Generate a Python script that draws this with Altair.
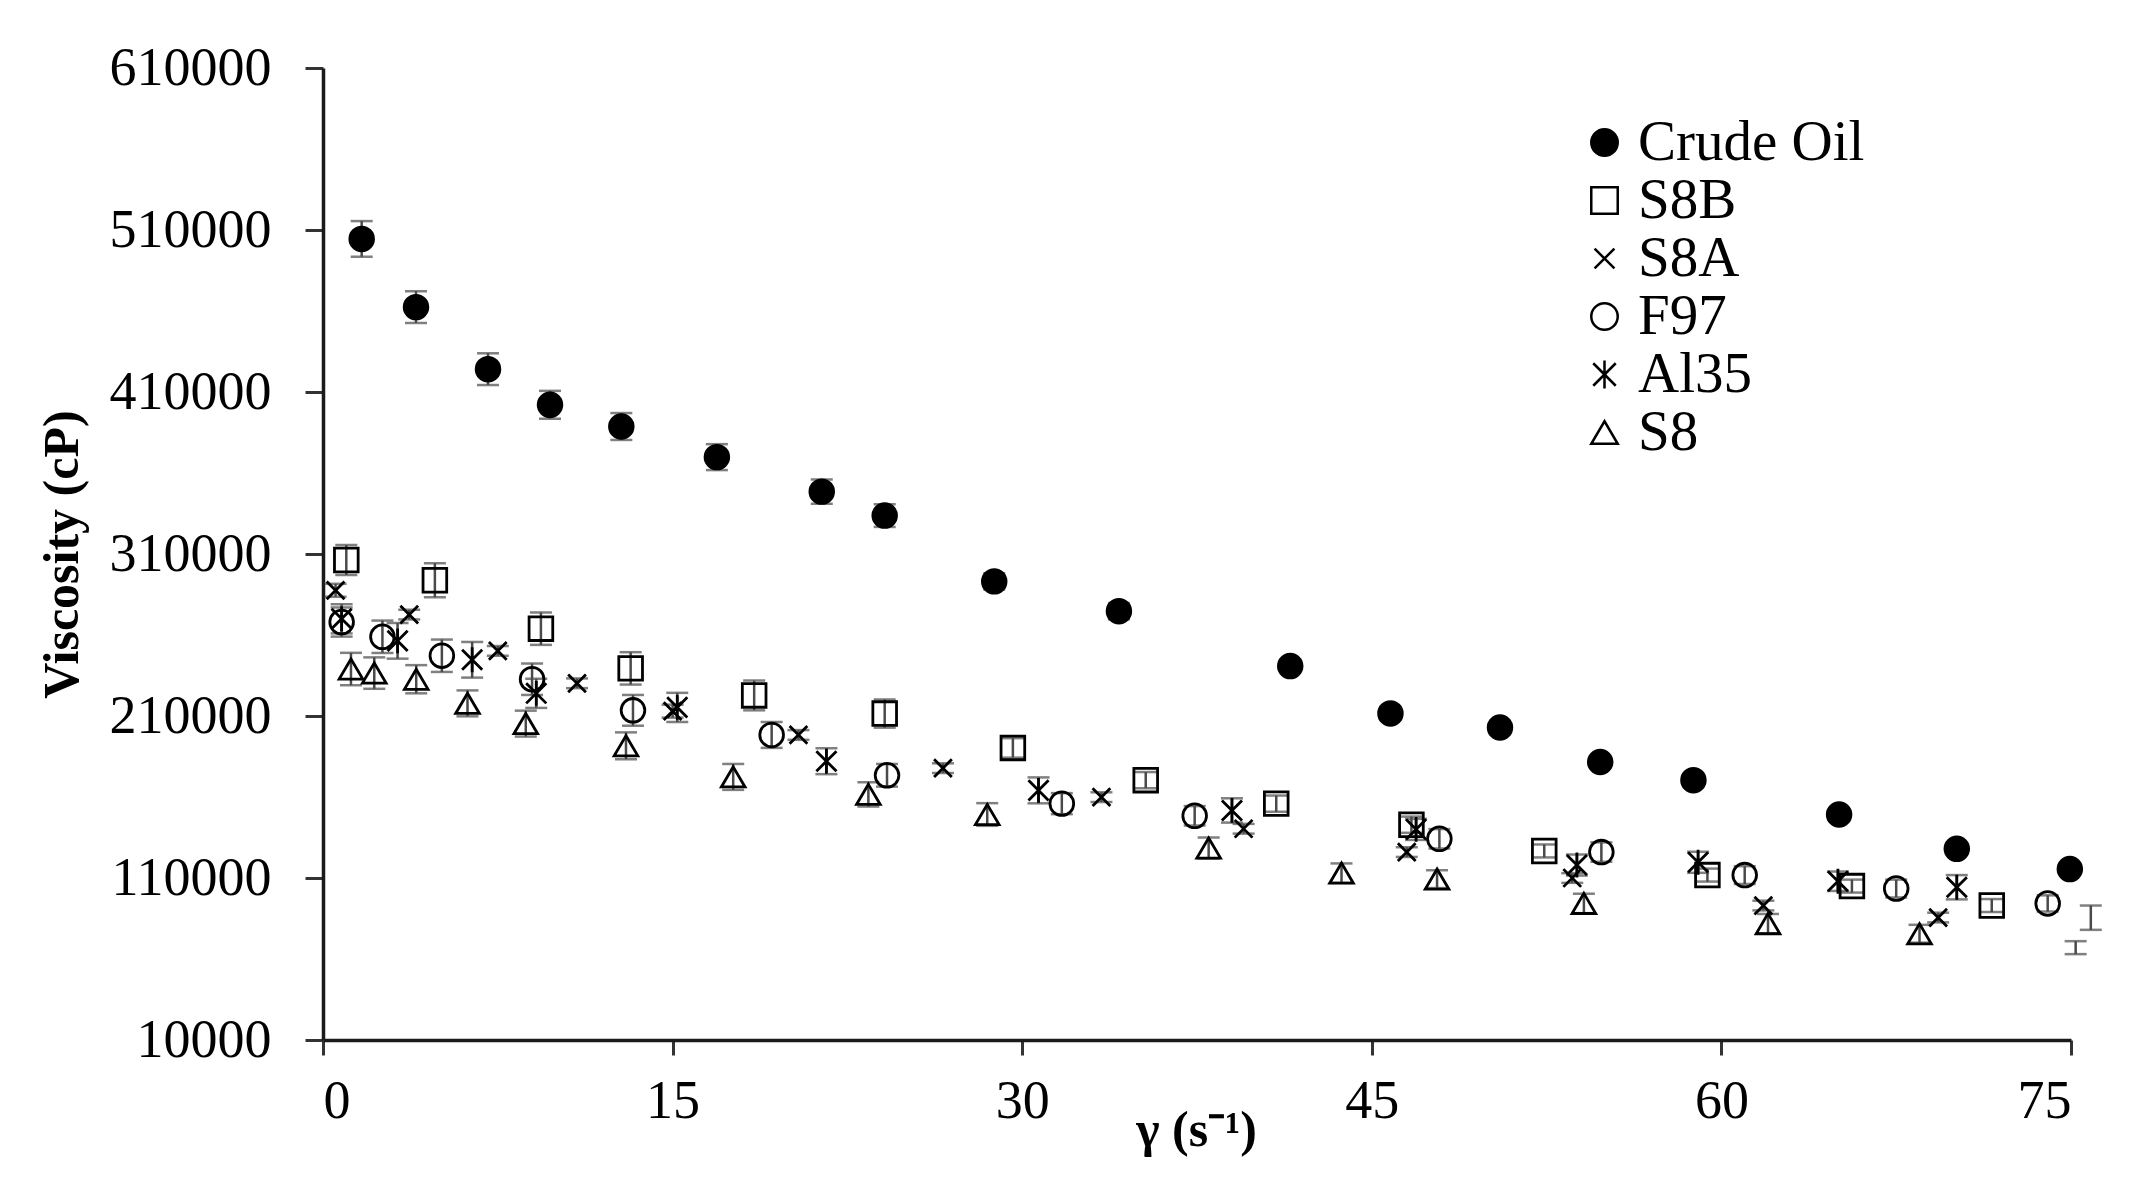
import altair as alt
import pandas as pd

series_order = ["Crude Oil", "S8B", "S8A", "F97", "Al35", "S8"]

crude_x = [1.66, 3.99, 7.08, 9.74, 12.8, 16.9, 21.4, 24.1, 28.8, 34.15, 41.5, 45.8, 50.5, 54.8, 58.8, 65.05, 70.1, 74.95]
crude_y = [504500, 462400, 424100, 402100, 388700, 369800, 348500, 333700, 293100, 274700, 240800, 211600, 202900, 181600, 170400, 149200, 128000, 115500]
crude_e = [11000, 9800, 9800, 8600, 8300, 8000, 7500, 7000, 5000, 5000, 4000, 4000, 4000, 3500, 3500, 3000, 3000, 3000]

s8b_x = [1.0, 4.8, 9.35, 13.2, 18.5, 24.1, 29.6, 35.3, 40.9, 46.7, 52.4, 59.4, 65.6, 71.6]
s8b_y = [306300, 293800, 263900, 239400, 222700, 211500, 190300, 170400, 155900, 142900, 126700, 111800, 105000, 93000]
s8b_e = [9200, 10500, 10000, 10000, 9200, 8700, 6000, 5000, 5000, 5000, 4000, 4000, 4000, 4000]

s8a_x = [0.54, 3.7, 7.5, 10.9, 15.0, 20.4, 26.6, 33.4, 39.5, 46.5, 53.6, 61.8, 69.3, 75.85]
s8a_y = [287600, 272600, 250200, 230200, 213000, 198300, 177800, 159900, 140400, 126000, 110000, 93000, 85600, 85500]
s8a_e = [4000, 3000, 3000, 3000, 4000, 3000, 3000, 3000, 3000, 3000, 3000, 3000, 3000, 7500]

f97_x = [0.8, 2.55, 5.1, 8.97, 13.3, 19.25, 24.2, 31.7, 37.4, 47.9, 54.85, 61.0, 67.5, 74.0]
f97_y = [268000, 258900, 247200, 232700, 213500, 198300, 173400, 155900, 148400, 134200, 126000, 111800, 103500, 94300]
f97_e = [9000, 10000, 10000, 9700, 9500, 8000, 7000, 6500, 6000, 6000, 6000, 5500, 5500, 5000]

al35_x = [0.8, 3.2, 6.4, 9.15, 15.2, 21.6, 30.7, 39.0, 46.9, 53.8, 59.0, 65.0, 70.1]
al35_y = [270000, 256400, 244700, 224000, 215300, 182100, 164100, 151700, 140000, 118000, 119700, 108000, 104300]
al35_e = [9000, 11000, 11000, 9000, 9000, 8000, 8000, 7500, 6500, 6500, 6500, 6000, 7500]

s8_x = [1.2, 2.2, 4.0, 6.2, 8.7, 13.0, 17.6, 23.4, 28.5, 38.0, 43.7, 47.8, 54.1, 62.0, 68.5, 75.2]
s8_y = [239000, 236500, 232700, 217800, 205300, 191600, 172400, 161600, 149200, 128500, 113000, 109300, 94300, 81800, 75600, 67000]
s8_e = [10000, 9700, 8700, 8000, 8000, 8300, 8000, 7500, 7000, 6500, 6000, 5500, 6000, 6000, 5500, 4000]

y_ticks = [10000, 110000, 210000, 310000, 410000, 510000, 610000]
x_ticks = [0, 15, 30, 45, 60, 75]

rows = []
for name, xs, ys, es in [
    ("Crude Oil", crude_x, crude_y, crude_e),
    ("S8B", s8b_x, s8b_y, s8b_e),
    ("S8A", s8a_x, s8a_y, s8a_e),
    ("F97", f97_x, f97_y, f97_e),
    ("Al35", al35_x, al35_y, al35_e),
    ("S8", s8_x, s8_y, s8_e),
]:
    for xv, yv, ev in zip(xs, ys, es):
        rows.append({"series": name, "x": xv, "y": yv, "lo": yv - ev, "hi": yv + ev})
df = pd.DataFrame(rows)

X_PATH = "M-0.75,-0.75L0.75,0.75M-0.75,0.75L0.75,-0.75"
STAR_PATH = "M-0.85,-0.85L0.85,0.85M-0.85,0.85L0.85,-0.85M0,-1.05L0,1.05"
TRI_PATH = "M0,-0.85L1,0.85L-1,0.85Z"

xscale = alt.Scale(domain=[0, 75], nice=False, zero=False)
yscale = alt.Scale(domain=[10000, 610000], nice=False, zero=False)

FONT = "Liberation Serif"

xaxis = alt.Axis(values=x_ticks, title="γ (s⁻¹)", grid=False, tickSize=15, labelPadding=19,
                 titleX=873, titleY=90, titleBaseline="middle", titleAlign="center")
yaxis = alt.Axis(values=y_ticks, format="d", title="Viscosity (cP)", grid=False, tickSize=18,
                 labelPadding=34, titleX=-261, titleY=486, titleAngle=-90,
                 titleBaseline="middle", titleAlign="center")

base = alt.Chart(df)

err_color = "#4a4a4a"
bars = base.mark_rule(color=err_color, strokeWidth=2.5).encode(
    x=alt.X("x:Q", scale=xscale, axis=xaxis),
    y=alt.Y("lo:Q", scale=yscale, axis=yaxis),
    y2="hi:Q",
)
cap_lo = base.mark_tick(orient="horizontal", size=22, thickness=2.5, color=err_color).encode(
    x=alt.X("x:Q", scale=xscale), y=alt.Y("lo:Q", scale=yscale)
)
cap_hi = base.mark_tick(orient="horizontal", size=22, thickness=2.5, color=err_color).encode(
    x=alt.X("x:Q", scale=xscale), y=alt.Y("hi:Q", scale=yscale)
)

legend = alt.Legend(title=None)
points = base.transform_filter("datum.x <= 75").mark_point(
    filled=False, strokeWidth=2.8, size=560, opacity=1
).encode(
    x=alt.X("x:Q", scale=xscale),
    y=alt.Y("y:Q", scale=yscale),
    color=alt.Color("series:N", sort=series_order,
                    scale=alt.Scale(domain=series_order, range=["black"] * 6),
                    legend=legend),
    shape=alt.Shape("series:N", sort=series_order,
                    scale=alt.Scale(domain=series_order,
                                    range=["circle", "square", X_PATH, "circle", STAR_PATH, TRI_PATH]),
                    legend=legend),
    fill=alt.Fill("series:N", sort=series_order,
                  scale=alt.Scale(domain=series_order,
                                  range=["black", "transparent", "transparent", "transparent", "transparent", "transparent"]),
                  legend=legend),
)

chart = alt.layer(bars, cap_lo, cap_hi, points).properties(
    width=1748, height=972,
    autosize=alt.AutoSizeParams(type="none"),
    padding={"left": 315, "top": 60, "right": 60, "bottom": 130},
    background="white",
).configure_view(strokeWidth=0).configure_axis(
    labelFont=FONT, labelFontSize=54, labelColor="black",
    titleFont=FONT, titleFontSize=50, titleFontWeight="bold", titleColor="black",
    domainColor="#1a1a1a", domainWidth=3.5, tickColor="#333333", tickWidth=3,
).configure_legend(
    orient="none", legendX=1253, legendY=46, padding=0,
    labelFont=FONT, labelFontSize=57, labelColor="black", labelOffset=5, labelLimit=0,
    symbolSize=700, symbolStrokeWidth=2.5, rowPadding=0,
)

chart.save("out.html", embed_options={"renderer": "svg", "actions": False})
